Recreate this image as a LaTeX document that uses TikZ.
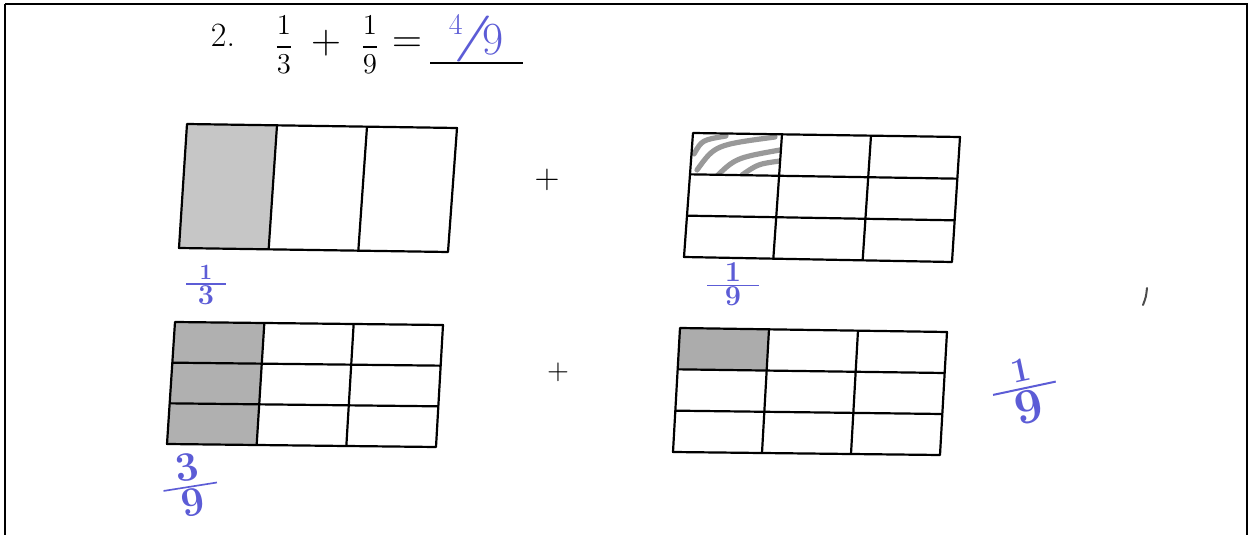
\documentclass[tikz,border=0pt]{standalone}
\usepackage{amsmath}
\usepackage{xcolor}
\usepackage{tikz}
\usetikzlibrary{calc}
\definecolor{penblue}{RGB}{92,92,214}
\tikzset{
    gridline/.style={line width=1.1pt, line join=round},
    framerule/.style={line width=0.7pt},
    printtext/.style={inner sep=0pt, font=\fontsize{20}{20}\selectfont},
    fractext/.style={inner sep=0pt, font=\fontsize{14.5}{14.5}\selectfont},
    pentext/.style={inner sep=0pt, text=penblue},
    pencilmark/.style={draw=gray!80, line width=2.6pt, line cap=round}
}
\newcommand{\penfrac}[3]{$\frac{\makebox[#3]{$\textstyle\mathbf{#1}$}}{\textstyle\mathbf{#2}}$}

\begin{document}
\begin{tikzpicture}[x=0.5pt, y=-0.5pt]
        \useasboundingbox (0,0) rectangle (1249,535);
        \fill[white] (0,0) rectangle (1249,535);

        \coordinate (frbl) at (5,535);
        \coordinate (frtl) at (5,4);
        \coordinate (frtr) at (1247,4);
        \coordinate (frbr) at (1247,535);
        \draw[framerule] (frtl) -- (frtr) -- (frbr);
        \draw[line width=1.4pt] (frtl) -- (frbl);

        % corners of the four grids
        \coordinate (gatl) at (187,124); \coordinate (gatr) at (457,128);
        \coordinate (gabr) at (448,252); \coordinate (gabl) at (179,248);
        \coordinate (gbtl) at (693,133); \coordinate (gbtr) at (960,137);
        \coordinate (gbbr) at (952,262); \coordinate (gbbl) at (684,257);
        \coordinate (gctl) at (175,322); \coordinate (gctr) at (443,325);
        \coordinate (gcbr) at (436,447); \coordinate (gcbl) at (167,444);
        \coordinate (gdtl) at (680,328); \coordinate (gdtr) at (947,332);
        \coordinate (gdbr) at (940,455); \coordinate (gdbl) at (673,452);

        \fill[gray!45] (gatl) -- ($(gatl)!1/3!(gatr)$) -- ($(gabl)!1/3!(gabr)$) -- (gabl) -- cycle;
        \fill[gray!62] (gctl) -- ($(gctl)!1/3!(gctr)$) -- ($(gcbl)!1/3!(gcbr)$) -- (gcbl) -- cycle;
        \coordinate (gdml) at ($(gdtl)!1/3!(gdbl)$);
        \coordinate (gdmr) at ($(gdtr)!1/3!(gdbr)$);
        \fill[gray!65] (gdtl) -- ($(gdtl)!1/3!(gdtr)$) -- ($(gdml)!1/3!(gdmr)$) -- (gdml) -- cycle;

        \coordinate (gbml) at ($(gbtl)!1/3!(gbbl)$);
        \coordinate (gbmr) at ($(gbtr)!1/3!(gbbr)$);
        \begin{scope}
            \clip (gbtl) -- ($(gbtl)!1/3!(gbtr)$) -- ($(gbml)!1/3!(gbmr)$) -- (gbml) -- cycle;
            \draw[pencilmark] (694,154) .. controls (702,140) .. (726,136);
            \draw[pencilmark] (697,170) .. controls (715,145) .. (775,137);
            \draw[pencilmark] (713,180) .. controls (735,158) .. (780,150);
            \draw[pencilmark] (742,175) .. controls (758,164) .. (780,161);
        \end{scope}

        \foreach \g/\r in {ga/1,gb/3,gc/3,gd/3} {
            \draw[gridline] (\g tl) -- (\g tr) -- (\g br) -- (\g bl) -- cycle;
            \foreach \i in {1,2} {
                \draw[gridline] ($(\g tl)!\i/3!(\g tr)$) -- ($(\g bl)!\i/3!(\g br)$);
                \ifnum\r=3
                    \draw[gridline] ($(\g tl)!\i/3!(\g bl)$) -- ($(\g tr)!\i/3!(\g br)$);
                \fi
            }
        }

        \node[printtext, font=\fontsize{17}{17}\selectfont, anchor=base] (qnum) at (223,47) {2.};
        \node[fractext] (qfa) at (284,45) {$\displaystyle\frac{1}{3}$};
        \node[printtext] (qplus) at (326,43) {$+$};
        \node[fractext] (qfb) at (370,45) {$\displaystyle\frac{1}{9}$};
        \node[printtext] (qeq) at (407,45) {$=$};
        \coordinate (blankl) at (430,63);
        \coordinate (blankr) at (523,63);
        \draw[line width=0.8pt] (blankl) -- (blankr);
        \node[pentext, font=\fontsize{23}{23}\selectfont] (answer) at (476,38)
            {\raisebox{.35em}{\fontsize{15}{15}\selectfont 4}\kern-.2em\scalebox{1.9}[1]{/}\kern-.25em\raisebox{-.1em}{9}};

        \node[printtext, font=\fontsize{16}{16}\selectfont] (plustop) at (547,180) {$+$};
        \node[printtext, font=\fontsize{14}{14}\selectfont] (plusbot) at (558,372) {$+$};

        \node[pentext, font=\fontsize{15}{15}\selectfont] (labthird) at (206,285) {\penfrac{\scriptstyle 1}{3}{20pt}};
        \node[pentext, font=\fontsize{15}{15}\selectfont] (labninth) at (733,284) {\penfrac{1}{9}{26pt}};
        \node[pentext, font=\fontsize{21}{21}\selectfont, rotate=9] (labthree) at (190,485) {\penfrac{3}{9}{27pt}};
        \node[pentext, font=\fontsize{33}{33}\selectfont, rotate=12] (labone) at (1025,391) {\penfrac{\scriptscriptstyle 1}{9}{32pt}};

        \draw[draw=black!70, line width=1pt, line cap=round] (1147,288) .. controls (1146,297) .. (1143,305);
    \end{tikzpicture}
\end{document}
